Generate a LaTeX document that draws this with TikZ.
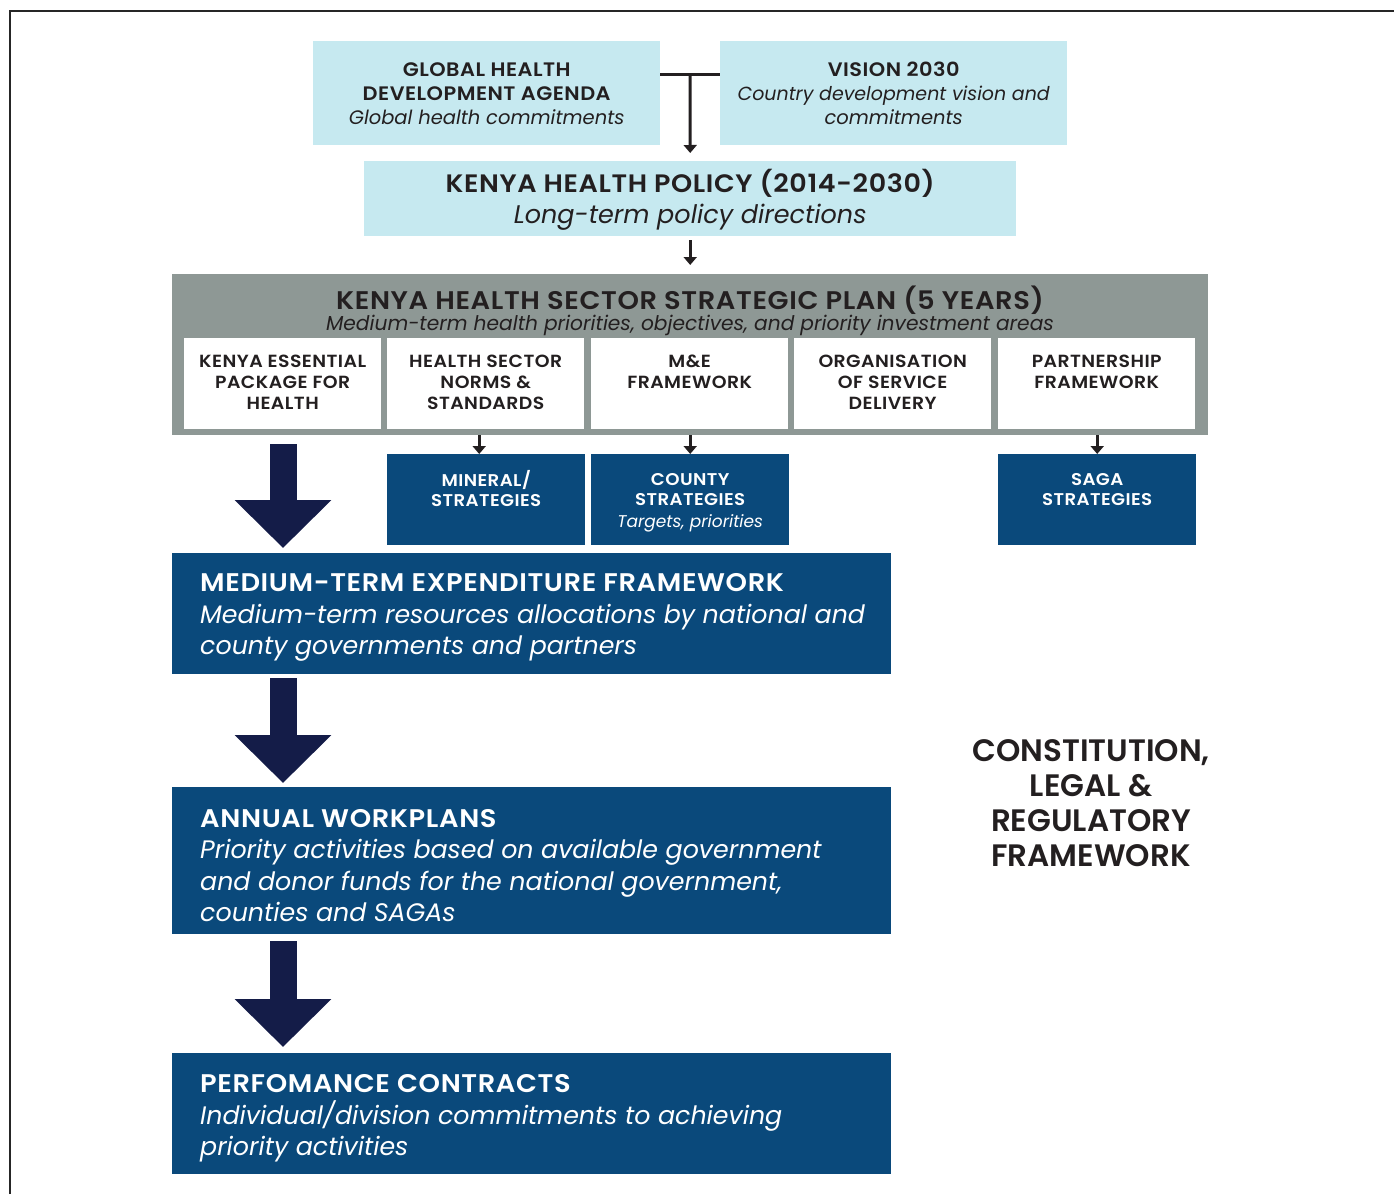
\documentclass[tikz,border=0pt]{standalone}
\usepackage{fontspec}
\setmainfont{Poppins}[BoldFont={Poppins SemiBold},BoldFeatures={FakeStretch=1.07,LetterSpace=2.5}]
\newfontfamily\cfam{Poppins}[BoldFont={Poppins SemiBold}]
\usetikzlibrary{arrows.meta,calc}
\definecolor{lblue}{HTML}{C6E9F0}
\definecolor{gbox}{HTML}{8E9895}
\definecolor{dblue}{HTML}{0A497B}
\definecolor{navy}{HTML}{141C48}
\definecolor{ink}{HTML}{231F20}
\begin{document}
\begin{tikzpicture}[x=1pt,y=-1pt,
  lbox/.style={fill=lblue, draw=none, anchor=north west, inner sep=0pt},
  gray/.style={fill=gbox, draw=none, anchor=north west, inner sep=0pt},
  wbox/.style={fill=white, draw=none, anchor=north west, inner sep=0pt, minimum width=197pt, minimum height=91pt},
  sbox/.style={fill=dblue, draw=none, anchor=north west, inner sep=0pt, minimum width=198pt, minimum height=91pt},
  bbox/.style={fill=dblue, draw=none, anchor=north west, inner sep=0pt, minimum width=719pt},
  wtext/.style={anchor=north, inner sep=0pt, align=center, text=ink, font=\fontsize{17.6}{21}\selectfont\bfseries},
  stext/.style={anchor=north, inner sep=0pt, align=center, text=white, font=\fontsize{17}{20.5}\selectfont\bfseries},
  btext/.style={anchor=west, inner sep=0pt, align=left, text=white, font=\fontsize{25.3}{31.5}\selectfont},
  thin/.style={draw=ink, line width=3pt},
  thinarrow/.style={draw=ink, line width=3pt, -{Triangle[width=13pt,length=8pt]}},
  bigarrow/.style={draw=navy, line width=27pt, -{Triangle[width=94pt,length=48pt]}}
]
\useasboundingbox (0,0) rectangle (1394,1194);
\draw[line width=1.5pt, black!85] (10,1194) -- (10,11) -- (1394,11);

% top boxes
\node[lbox, minimum width=347pt, minimum height=104pt] (gh) at (313,41) {};
\node[anchor=center, inner sep=0pt, align=center, text=ink, font=\fontsize{19.5}{24}\selectfont] at (gh.center)
  {\bfseries GLOBAL HEALTH\\ \bfseries DEVELOPMENT AGENDA\\ \itshape Global health commitments};
\node[lbox, minimum width=347pt, minimum height=104pt] (vis) at (720,41) {};
\node[anchor=center, inner sep=0pt, align=center, text=ink, font=\fontsize{19.5}{24}\selectfont] at (vis.center)
  {\bfseries VISION 2030\\ \fontsize{19}{24}\selectfont\itshape Country development vision and\\ \itshape commitments};

\node[lbox, minimum width=652pt, minimum height=75pt] (khp) at (364,161) {};
\node[anchor=center, inner sep=0pt, align=center, text=ink, font=\fontsize{25.2}{31}\selectfont] at ([yshift=-1pt]khp.center)
  {\bfseries KENYA HEALTH POLICY (2014-2030)\\ \fontsize{25.5}{31}\selectfont\itshape Long-term policy directions};

\coordinate (tj) at (690,74);
\draw[thin] (gh.east |- tj) -- (vis.west |- tj);
\draw[thinarrow] (tj) -- ([yshift=8pt]khp.north);

% strategic plan
\node[gray, minimum width=1036pt, minimum height=161pt] (ssp) at (172,274) {};
\draw[thinarrow] ([yshift=-4pt]khp.south) -- ([yshift=9pt]ssp.north);
\node[inner sep=0pt, text=ink, font=\fontsize{25.5}{28}\selectfont\bfseries] (ssptitle) at (690,300) {KENYA HEALTH SECTOR STRATEGIC PLAN (5 YEARS)};
\node[inner sep=0pt, text=ink, font=\fontsize{20.2}{24}\selectfont\itshape] (sspsub) at (690,325) {Medium-term health priorities, objectives, and priority investment areas};

\node[wbox] (kep) at (184,338) {};
\node[wbox] (hsn) at (387,338) {};
\node[wbox] (mef) at (591,338) {};
\node[wbox] (osd) at (794,338) {};
\node[wbox] (pf) at (998,338) {};
\node[wtext] at ([yshift=-17pt]kep.north) {KENYA ESSENTIAL\\PACKAGE FOR\\HEALTH};
\node[wtext] at ([yshift=-17pt]hsn.north) {HEALTH SECTOR\\NORMS \&\\STANDARDS};
\node[wtext] at ([yshift=-17pt]mef.north) {M\&E\\FRAMEWORK};
\node[wtext] at ([yshift=-17pt]osd.north) {ORGANISATION\\OF SERVICE\\DELIVERY};
\node[wtext] at ([yshift=-17pt]pf.north) {PARTNERSHIP\\FRAMEWORK};

% second-level strategies
\node[sbox] (min) at (387,454) {};
\node[sbox] (cty) at (591,454) {};
\node[sbox] (saga) at (998,454) {};
\node[stext] at ([yshift=-16pt]min.north) {MINERAL/\\STRATEGIES};
\node[stext] at ([yshift=-19pt]cty.north) {COUNTY\\STRATEGIES\\[1pt]{\mdseries\itshape\fontsize{17}{20}\selectfont Targets, priorities}};
\node[stext] at ([yshift=-19pt]saga.north) {SAGA\\STRATEGIES};

\draw[thinarrow] ([xshift=-7pt]ssp.south -| min.north) -- ([xshift=-7pt]min.north);
\draw[thinarrow] (ssp.south -| cty.north) -- (cty.north);
\draw[thinarrow] (ssp.south -| saga.north) -- (saga.north);

% big boxes
\node[bbox, minimum height=121pt] (mtef) at (172,553) {};
\node[btext] at ([xshift=28pt,yshift=-4pt]mtef.west)
  {{\fontsize{25.5}{31.5}\selectfont\bfseries MEDIUM-TERM EXPENDITURE FRAMEWORK}\\ \itshape Medium-term resources allocations by national and\\ \itshape county governments and partners};
\node[bbox, minimum height=147pt] (awp) at (172,787) {};
\node[btext] at ([xshift=28pt,yshift=-5pt]awp.west)
  {{\fontsize{25.5}{31.5}\selectfont\bfseries ANNUAL WORKPLANS}\\ \itshape Priority activities based on available government\\ \itshape and donor funds for the national government,\\ \itshape counties and SAGAs};
\node[bbox, minimum height=121pt] (pc) at (172,1053) {};
\node[btext] at ([xshift=28pt,yshift=-5pt]pc.west)
  {{\fontsize{25.5}{31.5}\selectfont\bfseries PERFOMANCE CONTRACTS}\\ \itshape Individual/division commitments to achieving\\ \itshape priority activities};

\draw[bigarrow] ([xshift=111pt,yshift=-9pt]ssp.south west) -- ([xshift=111pt,yshift=5pt]mtef.north west);
\draw[bigarrow] ([xshift=111pt,yshift=-4pt]mtef.south west) -- ([xshift=111pt,yshift=4pt]awp.north west);
\draw[bigarrow] ([xshift=111pt,yshift=-7pt]awp.south west) -- ([xshift=111pt,yshift=6pt]pc.north west);

\node[inner sep=0pt, align=center, text=ink, font=\cfam\fontsize{31}{35}\selectfont\bfseries] (crf) at (1091,803)
  {CONSTITUTION,\\LEGAL \&\\REGULATORY\\FRAMEWORK};
\end{tikzpicture}
\end{document}
